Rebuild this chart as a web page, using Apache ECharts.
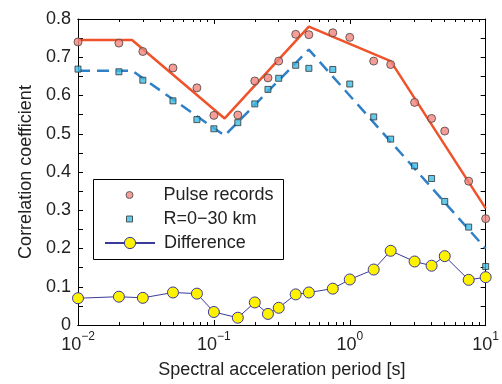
<!DOCTYPE html>
<html>
<head>
<meta charset="utf-8">
<script src="https://cdn.jsdelivr.net/npm/echarts@6/dist/echarts.min.js"></script>
<style>
  html, body { margin: 0; padding: 0; background: #fff; }
  #chart { width: 502px; height: 384px; }
</style>
</head>
<body>
<div id="chart"></div>
<script>
// periods (s) shared by all three point series
const periods = [0.01, 0.02, 0.03, 0.05, 0.075, 0.1, 0.15, 0.2, 0.25, 0.3, 0.4, 0.5, 0.75, 1, 1.5, 2, 3, 4, 5, 7.5, 10];
const pulseRecords = [0.740, 0.737, 0.715, 0.672, 0.620, 0.548, 0.549, 0.638, 0.646, 0.690, 0.760, 0.759, 0.764, 0.752, 0.690, 0.681, 0.582, 0.540, 0.507, 0.376, 0.278];
const nearFault = [0.669, 0.662, 0.640, 0.586, 0.537, 0.513, 0.529, 0.578, 0.616, 0.645, 0.679, 0.671, 0.668, 0.630, 0.544, 0.486, 0.416, 0.383, 0.323, 0.256, 0.153];
const difference = [0.070, 0.074, 0.071, 0.085, 0.082, 0.034, 0.019, 0.059, 0.029, 0.045, 0.080, 0.085, 0.095, 0.119, 0.145, 0.194, 0.166, 0.155, 0.180, 0.118, 0.125];

// fitted piecewise models
const pulseFitX = [0.01, 0.025, 0.12, 0.5, 2, 10];
const pulseFitY = [0.745, 0.745, 0.54, 0.78, 0.69, 0.305];
const nearFitX = [0.01, 0.025, 0.12, 0.5, 10];
const nearFitY = [0.665, 0.665, 0.495, 0.72, 0.2];

const majorX = [0.01, 0.1, 1, 10];
const minorX = [0.02, 0.03, 0.04, 0.05, 0.06, 0.07, 0.08, 0.09,
                0.2, 0.3, 0.4, 0.5, 0.6, 0.7, 0.8, 0.9,
                2, 3, 4, 5, 6, 7, 8, 9];

const FONT = "'Liberation Sans', Arial, sans-serif";
const pair = (xs, ys) => xs.map((x, i) => [x, ys[i]]);

const chart = echarts.init(document.getElementById('chart'));

const logAxis = (extra) => Object.assign({
  type: 'log', logBase: 10, min: 0.01, max: 10,
  axisLine: {show: true, onZero: false, lineStyle: {color: '#000', width: 1}},
  splitLine: {show: false},
  axisLabel: {show: false},
}, extra);

const valAxis = (extra) => Object.assign({
  type: 'value', min: 0, max: 0.8, interval: 0.1,
  axisLine: {show: true, onZero: false, lineStyle: {color: '#000', width: 1}},
  axisTick: {show: true, inside: true, length: 5, lineStyle: {color: '#000'}},
  minorTick: {show: true, splitNumber: 2, length: 5, lineStyle: {color: '#000'}},
  splitLine: {show: false},
  minorSplitLine: {show: false},
}, extra);

// one legend per entry so each icon can have its own size
const legendItem = (name, left, top, w, h, border, icon, textPad) => ({
  data: [icon ? {name: name, icon: icon} : name],
  left: left, top: top, orient: 'vertical', padding: 0,
  itemWidth: w, itemHeight: h, selectedMode: false, z: 6,
  itemStyle: {borderColor: border, borderWidth: 1},
  textStyle: {fontFamily: FONT, fontSize: 18, color: '#222', padding: [0, 0, 0, textPad]},
});

chart.setOption({
  animation: false,
  backgroundColor: '#fff',
  grid: {left: 78, right: 15, top: 19, bottom: 59},
  xAxis: [
    logAxis({
      position: 'bottom',
      name: 'Spectral acceleration period [s]',
      nameLocation: 'middle', nameGap: 36,
      nameTextStyle: {fontFamily: FONT, fontSize: 18, color: '#222'},
      axisTick: {show: true, inside: true, length: 5, customValues: majorX, lineStyle: {color: '#000'}},
      axisLabel: {
        show: true, customValues: majorX, margin: 6,
        formatter: (v) => {
          const e = Math.round(Math.log10(v));
          return '{b|10}{s|' + (e < 0 ? '\u2212' + (-e) : e) + '}';
        },
        rich: {
          b: {fontFamily: FONT, fontSize: 18, color: '#222', padding: [5, 0, 0, 0]},
          s: {fontFamily: FONT, fontSize: 12, color: '#222', verticalAlign: 'top'},
        },
      },
    }),
    logAxis({position: 'bottom', axisTick: {show: true, inside: true, length: 3, customValues: minorX, lineStyle: {color: '#000'}}}),
    logAxis({position: 'top', axisTick: {show: true, inside: true, length: 5, customValues: majorX, lineStyle: {color: '#000'}}}),
    logAxis({position: 'top', axisTick: {show: true, inside: true, length: 3, customValues: minorX, lineStyle: {color: '#000'}}}),
  ],
  yAxis: [
    valAxis({
      position: 'left',
      name: 'Correlation coefficient',
      nameLocation: 'middle', nameGap: 40,
      nameTextStyle: {fontFamily: FONT, fontSize: 18, color: '#222'},
      axisLabel: {
        fontFamily: FONT, fontSize: 18, color: '#222', margin: 7,
        formatter: (v) => (v === 0 ? '0' : v.toFixed(1)),
      },
    }),
    valAxis({position: 'right', axisLabel: {show: false}}),
  ],
  graphic: [{
    type: 'rect', z: 5,
    shape: {x: 93.5, y: 179.5, width: 190, height: 80},
    style: {fill: '#fff', stroke: '#000', lineWidth: 1},
  }],
  legend: [
    legendItem('Pulse records', 125.5, 186, 7, 7, '#444', 'circle', 25.5),
    legendItem('R=0\u221230 km', 126, 210, 6, 6, '#333', 'path://M0,0L10,0L10,10L0,10Z', 26),
    legendItem('Difference', 104, 234, 50, 14, '#3a3a9a', null, 4),
  ],
  series: [
    {
      name: 'pulse fit', type: 'line', data: pair(pulseFitX, pulseFitY),
      showSymbol: false, symbol: 'none', z: 2,
      lineStyle: {color: '#f0522a', width: 2.5},
    },
    {
      name: 'near fit', type: 'line', data: pair(nearFitX, nearFitY),
      showSymbol: false, symbol: 'none', z: 2,
      lineStyle: {color: '#2f80c6', width: 2.5, type: [12, 7]},
    },
    {
      name: 'Pulse records', type: 'scatter', data: pair(periods, pulseRecords),
      symbol: 'circle', symbolSize: 8, z: 3,
      itemStyle: {color: '#f2847c', borderColor: '#444', borderWidth: 1},
    },
    {
      name: 'R=0\u221230 km', type: 'scatter', data: pair(periods, nearFault),
      symbol: 'rect', symbolSize: 6, z: 3,
      itemStyle: {color: '#3cbde6', borderColor: '#333', borderWidth: 1},
    },
    {
      name: 'Difference', type: 'line', data: pair(periods, difference),
      symbol: 'circle', symbolSize: 11, showAllSymbol: true, z: 4,
      lineStyle: {color: '#3a3a9a', width: 1},
      itemStyle: {color: '#fff200', borderColor: '#3a3a9a', borderWidth: 1},
    },
  ],
});
</script>
</body>
</html>
